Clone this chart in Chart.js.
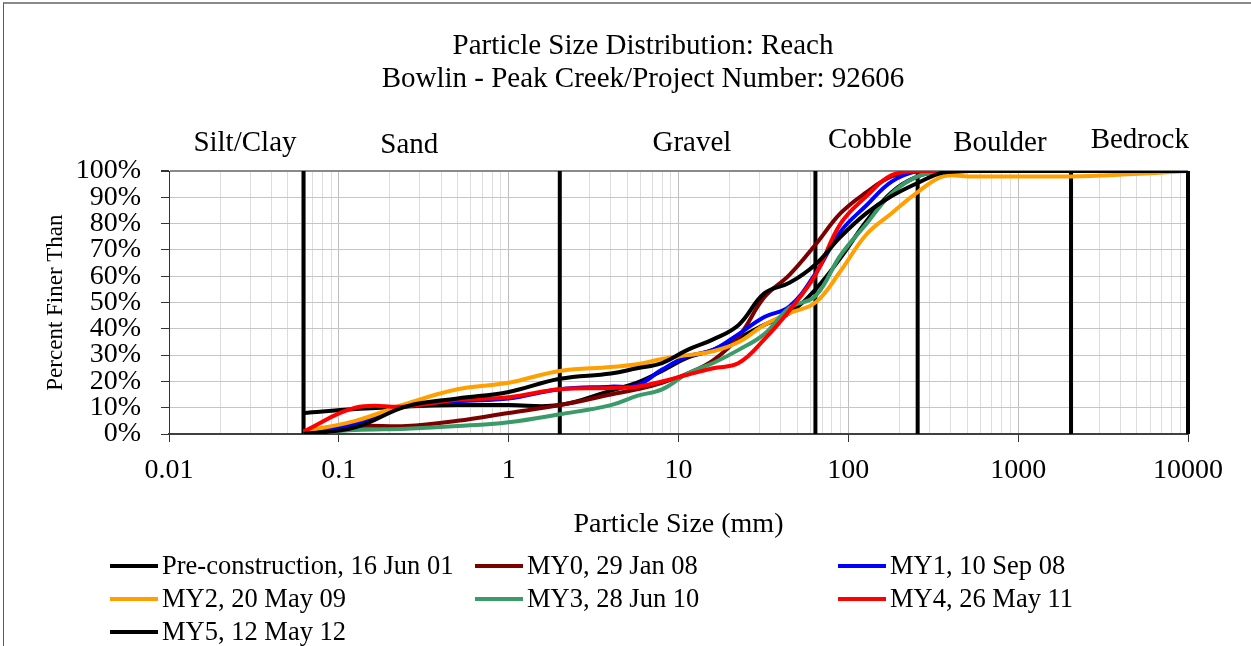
<!DOCTYPE html>
<html>
<head>
<meta charset="utf-8">
<title>Particle Size Distribution: Reach</title>
<script src="https://cdn.jsdelivr.net/npm/chart.js@4.4.1/dist/chart.umd.min.js"></script>
<style>
  html, body { margin: 0; padding: 0; background: #fff; overflow: hidden; }
  #wrap { position: relative; width: 1251px; height: 646px; overflow: hidden; }
  #chart { position: absolute; left: 0; top: 0; }
  #frame { position: absolute; left: 3px; top: 2px; width: 1260px; height: 660px;
           border-top: 2px solid #8a8a8a; border-left: 1px solid #5a5a5a; pointer-events: none; }
  #legend { position: absolute; left: 110px; top: 549px; display: grid;
            grid-template-columns: 365px 363px 330px; grid-auto-rows: 33px;
            font-family: "Liberation Serif", "Times New Roman", serif; font-size: 26.5px; color: #000; }
  .item { display: flex; align-items: center; white-space: nowrap; }
  .swatch { width: 48px; height: 4px; margin-right: 4px; flex: none; }
</style>
</head>
<body>
<div id="wrap">
  <canvas id="chart" width="1286" height="646"></canvas>
  <div id="frame"></div>
  <div id="legend"></div>
</div>
<script>
// sieve sizes (mm) and percent finer for each survey
var sieveSizes = [0.062, 0.125, 0.25, 0.5, 1, 2, 4, 5.7, 8, 11.3, 16, 22.6, 32, 45, 64, 90, 128, 180, 256, 362, 512, 1024, 2048, 4096, 10000];
var preConstruction = [8, 9.5, 10.5, 11, 11, 11, 16.5, 19.5, 24, 29, 32, 36.5, 41.5, 46, 55, 67, 81, 92, 98, 100, 100, 100, 100, 100, 100];
var my0 = [0, 3, 3, 5, 8, 11, 15, 17, 19.5, 23, 28, 37, 52, 60.5, 72, 84, 92, 98, 100, 100, 100, 100, 100, 100, 100];
var my1 = [0, 4, 10.5, 12.5, 13.5, 17, 18, 18.5, 24.5, 29.5, 32, 38, 44.5, 48.5, 61, 77, 87, 96, 100, 100, 100, 100, 100, 100, 100];
var my2 = [1, 5, 11.5, 17, 19.5, 24, 25.5, 26.5, 28.5, 30, 31.5, 35, 41.5, 46, 50, 62, 76, 84, 92, 98, 98, 98, 98, 98.7, 100];
var my3 = [0, 1.5, 2, 3, 4.5, 7.5, 11, 14.5, 17, 23, 27, 32, 38, 48, 52.5, 68, 80, 91.5, 98, 100, 100, 100, 100, 100, 100];
var my4 = [1, 10, 10.5, 13, 14, 17, 17.5, 18, 20, 22.5, 25, 27, 36, 47, 60.5, 80, 90.5, 98.5, 100, 100, 100, 100, 100, 100, 100];
var my5 = [0, 2.5, 10.5, 13.5, 16, 21, 23, 25, 27, 32, 36, 41.5, 53.5, 57.5, 64.5, 75, 84, 90.5, 95.5, 99.5, 100, 100, 100, 100, 100];

var seriesNames = ['Pre-construction, 16 Jun 01', 'MY0, 29 Jan 08', 'MY1, 10 Sep 08', 'MY2, 20 May 09',
                   'MY3, 28 Jun 10', 'MY4, 26 May 11', 'MY5, 12 May 12'];
var seriesValues = [preConstruction, my0, my1, my2, my3, my4, my5];
var seriesColors = ['#000000', '#7b0000', '#0000ff', '#ffa000', '#3a9a68', '#ff0000', '#000000'];

var xTickLabels = ['0.01', '0.1', '1', '10', '100', '1000', '10000'];
var decadeValues = [0.01, 0.1, 1, 10, 100, 1000, 10000];

var zoneNames = ['Silt/Clay', 'Sand', 'Gravel', 'Cobble', 'Boulder', 'Bedrock'];
var zoneBounds = [0.062, 2, 64, 256, 2048, 10000];
// where the zone names sit (mm) and how far above the plot
var zoneLabelAt = [0.028, 0.26, 12, 134, 780, 5200];
var zoneLabelRise = [28, 26, 28, 31, 28, 31];

var serif = '"Liberation Serif", "Times New Roman", serif';
Chart.defaults.font.family = serif;
Chart.defaults.color = '#000';

// 1..9 x 10^n for the log grid
var gridValues = [];
for (var e = -2; e <= 3; e++) {
    for (var k = 1; k <= 9; k++) {
        gridValues.push(Number((k * Math.pow(10, e)).toPrecision(3)));
    }
}
gridValues.push(10000);

function isDecade(v) {
    return decadeValues.indexOf(v) >= 0;
}

var zonePlugin = {
    id: 'zones',
    beforeDatasetsDraw: function(chart) {
        var ctx = chart.ctx;
        var xs = chart.scales.x;
        var area = chart.chartArea;
        ctx.save();
        ctx.strokeStyle = '#000';
        ctx.lineWidth = 4;
        zoneBounds.forEach(function(b) {
            var px = xs.getPixelForValue(b);
            ctx.beginPath();
            ctx.moveTo(px, area.top);
            ctx.lineTo(px, area.bottom);
            ctx.stroke();
        });
        ctx.fillStyle = '#000';
        ctx.font = '29px ' + serif;
        ctx.textAlign = 'center';
        ctx.textBaseline = 'middle';
        zoneNames.forEach(function(name, i) {
            ctx.fillText(name, xs.getPixelForValue(zoneLabelAt[i]), area.top - zoneLabelRise[i]);
        });
        ctx.restore();
    }
};

var datasets = seriesNames.map(function(name, i) {
    return {
        label: name,
        data: sieveSizes.map(function(s, j) { return { x: s, y: seriesValues[i][j] }; }),
        borderColor: seriesColors[i],
        backgroundColor: seriesColors[i],
        borderWidth: 4,
        pointRadius: 0,
        tension: 0.4,
        fill: false,
        order: seriesNames.length - i   // later surveys drawn on top
    };
});

var ctx = document.getElementById('chart').getContext('2d');
new Chart(ctx, {
    type: 'line',
    data: { datasets: datasets },
    plugins: [zonePlugin],
    options: {
        responsive: false,
        animation: false,
        layout: { padding: { left: 0, right: 0, top: 0, bottom: 105 } },
        plugins: {
            legend: { display: false },
            tooltip: { enabled: false },
            title: {
                display: true,
                text: ['Particle Size Distribution: Reach', 'Bowlin - Peak Creek/Project Number: 92606'],
                color: '#000',
                font: { size: 29, weight: 'normal', lineHeight: 1.14 },
                padding: { top: 30, bottom: 75 }
            }
        },
        scales: {
            x: {
                type: 'logarithmic',
                min: 0.01,
                max: 10000,
                afterBuildTicks: function(scale) {
                    scale.ticks = gridValues.map(function(v) { return { value: v }; });
                },
                afterFit: function(scale) { scale.height = 107; },
                ticks: {
                    autoSkip: false,
                    maxRotation: 0,
                    padding: 12,
                    color: '#000',
                    font: { size: 28 },
                    callback: function(value) {
                        var i = decadeValues.indexOf(value);
                        return i >= 0 ? xTickLabels[i] : '';
                    }
                },
                grid: {
                    color: function(c) { return isDecade(c.tick.value) ? '#bdbdbd' : '#dcdcdc'; },
                    tickColor: function(c) { return isDecade(c.tick.value) ? '#333' : 'rgba(0,0,0,0)'; },
                    tickLength: 8,
                    lineWidth: 1
                },
                border: { color: '#404040', width: 2 },
                title: {
                    display: true,
                    text: 'Particle Size (mm)',
                    color: '#000',
                    font: { size: 28 },
                    padding: { top: 0, bottom: 0 }
                }
            },
            y: {
                min: 0,
                max: 100,
                afterFit: function(scale) { scale.width = 169; },
                ticks: {
                    stepSize: 10,
                    autoSkip: false,
                    padding: 20,
                    color: '#000',
                    font: { size: 28 },
                    callback: function(v) { return v + '%'; }
                },
                grid: {
                    color: function(c) { return c.tick.value === 100 ? '#8a8a8a' : '#c6c6c6'; },
                    lineWidth: function(c) { return c.tick.value === 100 ? 2 : 1; },
                    tickColor: '#333',
                    tickLength: 8
                },
                border: { color: '#333', width: 1 },
                title: {
                    display: true,
                    text: 'Percent Finer Than',
                    color: '#000',
                    font: { size: 23 },
                    padding: { top: 42, bottom: 0 }
                }
            },
            // empty right-hand strip so the plot ends where the original does
            spacer: {
                axis: 'y',
                position: 'right',
                min: 0,
                max: 100,
                afterFit: function(scale) { scale.width = 98; },
                ticks: { display: false },
                grid: { display: false, drawTicks: false },
                border: { display: false }
            }
        }
    }
});

// legend laid out as a three-column grid
var legendBox = document.getElementById('legend');
datasets.forEach(function(ds) {
    var item = document.createElement('div');
    item.className = 'item';
    var sw = document.createElement('span');
    sw.className = 'swatch';
    sw.style.background = ds.borderColor;
    item.appendChild(sw);
    item.appendChild(document.createTextNode(ds.label));
    legendBox.appendChild(item);
});
</script>
</body>
</html>
